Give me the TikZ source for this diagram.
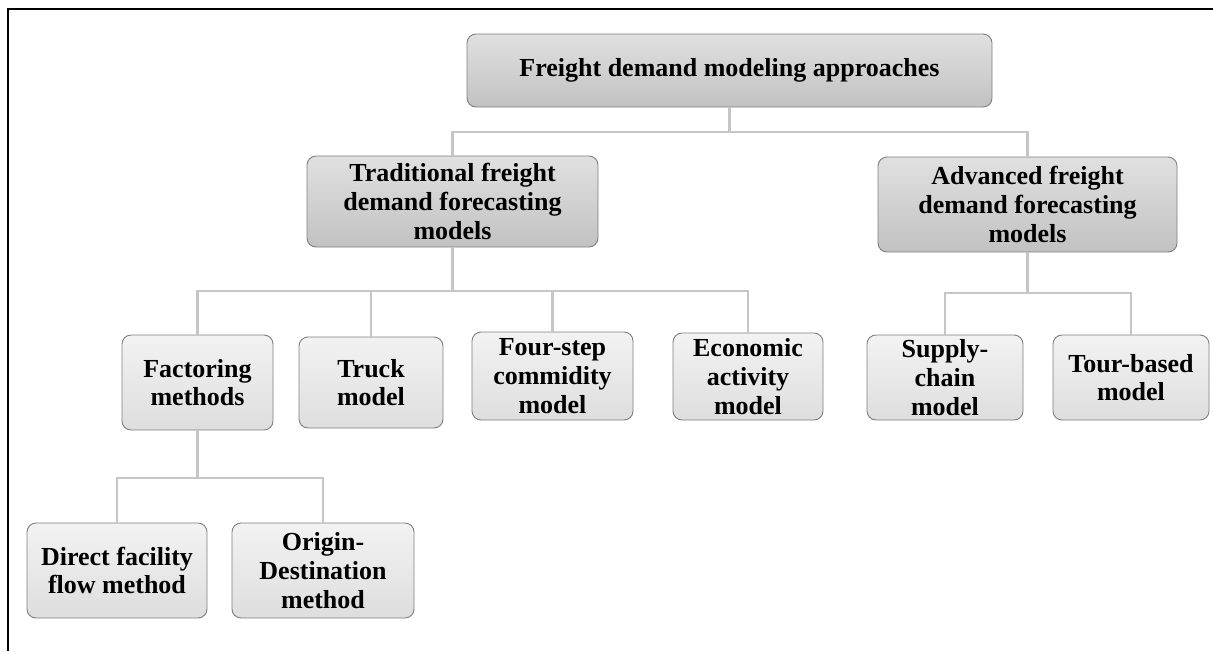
\documentclass[tikz,border=0pt]{standalone}
\usepackage{fontspec}
\setmainfont{Liberation Serif}
\definecolor{bordergray}{HTML}{7F7F7F}
\definecolor{conngray}{HTML}{C6C6C6}
\begin{document}
\begin{tikzpicture}[x=1pt,y=-1pt,
  box/.style={draw=bordergray, line width=0.9pt, rounded corners=9pt,
    align=center, inner sep=0pt,
    font=\fontsize{26}{28.7}\selectfont\bfseries},
  darkbox/.style={box, top color=black!12, bottom color=black!24},
  lightbox/.style={box, top color=black!5, bottom color=black!13},
  conn/.style={draw=conngray, line width=2.6pt}]
\useasboundingbox (0,0) rectangle (1213,651);
\draw[line width=2.2pt] (8,651) -- (8,9) -- (1213,9);

\node[darkbox, minimum width=525pt, minimum height=73pt] (root) at (729.5,70.5) {Freight demand modeling approaches};
\node[darkbox, minimum width=291pt, minimum height=91pt] (trad) at (452.5,201.5) {Traditional freight\\demand forecasting\\models};
\node[darkbox, minimum width=299pt, minimum height=95pt] (adv) at (1027.5,204.5) {Advanced freight\\demand forecasting\\models};

\node[lightbox, minimum width=151pt, minimum height=95pt] (fact) at (197.5,382.5) {Factoring\\methods};
\node[lightbox, minimum width=144pt, minimum height=91pt] (truck) at (371,382.5) {Truck\\model};
\node[lightbox, minimum width=161pt, minimum height=88pt] (four) at (552.5,376) {Four-step\\commidity\\model};
\node[lightbox, minimum width=150pt, minimum height=87pt] (econ) at (748,376.5) {Economic\\activity\\model};
\node[lightbox, minimum width=156pt, minimum height=85pt] (supply) at (945,377.5) {Supply-\\chain\\model};
\node[lightbox, minimum width=156pt, minimum height=85pt] (tour) at (1131,377.5) {Tour-based\\model};

\node[lightbox, minimum width=180pt, minimum height=95pt] (direct) at (117,570.5) {Direct facility\\flow method};
\node[lightbox, minimum width=182pt, minimum height=95pt] (od) at (323,570.5) {Origin-\\Destination\\method};

\coordinate (h1) at (0,132);
\coordinate (h2) at (0,291);
\coordinate (h3) at (0,293);
\coordinate (h4) at (0,478);

\draw[conn] (root.south) -- (root.south |- h1) -| (trad.north);
\draw[conn] (root.south |- h1) -| (adv.north);
\draw[conn] (trad.south) -- (trad.south |- h2) -| (fact.north);
\draw[conn] (trad.south |- h2) -| (truck.north);
\draw[conn] (trad.south |- h2) -| (four.north);
\draw[conn] (trad.south |- h2) -| (econ.north);
\draw[conn] (adv.south) -- (adv.south |- h3) -| (supply.north);
\draw[conn] (adv.south |- h3) -| (tour.north);
\draw[conn] (fact.south) -- (fact.south |- h4) -| (direct.north);
\draw[conn] (fact.south |- h4) -| (od.north);
\end{tikzpicture}
\end{document}
